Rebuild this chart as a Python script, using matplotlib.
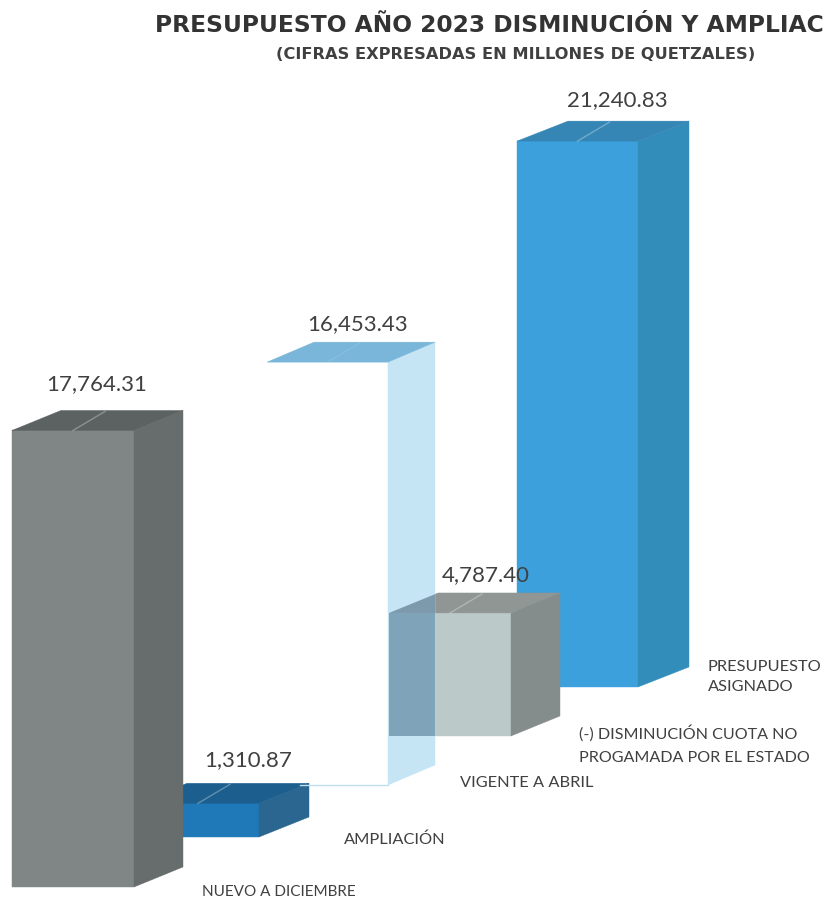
import matplotlib
matplotlib.use('Agg')
from matplotlib import pyplot as plt
from matplotlib.patches import Polygon

categories = ['NUEVO A DICIEMBRE', 'AMPLIACIÓN', 'VIGENTE A ABRIL',
              '(-) DISMINUCIÓN CUOTA NO\nPROGAMADA POR EL ESTADO', 'PRESUPUESTO\nASIGNADO']
values = [17764.31, 1310.87, 16453.43, 4787.40, 21240.83]
value_labels = ['17,764.31', '1,310.87', '16,453.43', '4,787.40', '21,240.83']

PX = 0.0257  # image pixels per million

# layout, in image pixels: left edge, width, depth, baseline
lefts = [12, 137, 267, 389, 517]
widths = [122, 122, 121, 122, 121]
depths = [49, 50, 47, 49, 51]
bases = [887, 837, 785, 736, 687]
DEPTH_Y = 20
# front, side, top
colors = [('#7f8685', '#676d6c', '#5c6261'),
          ('#1f78b8', '#2a6690', '#1c5f8e'),
          ('#ffffff', '#c5e5f5', '#7ab6d9'),
          ('#bcc9c9', '#858c8c', '#8f9694'),
          ('#3ba0dc', '#338dbb', '#3586b4')]
label_pos = [(97, 384), (248, 760), (358, 324), (486, 575), (617, 100)]
cat_pos = [(202, 892), (344, 840), (460, 783), (579, 745), (708, 677)]
cat_size = [11, 11.8, 11.8, 11.6, 11.8]
cat_spacing = [1, 1, 1, 1.85, 1.62]
leader_alpha = [.3, .3, .1, .3, .3]
draw_order = [4, 3, 2, 1, 0]


def y_of(pixel):
    return (900 - pixel) / PX


def box(i):
    # the three visible faces of one bar, heights come from the value
    x0, x1 = lefts[i], lefts[i] + widths[i]
    y0 = y_of(bases[i])
    y1 = y0 + values[i]
    dx, dy = depths[i], DEPTH_Y / PX
    front = [(x0, y0), (x1, y0), (x1, y1), (x0, y1)]
    side = [(x1, y0), (x1 + dx, y0 + dy), (x1 + dx, y1 + dy), (x1, y1)]
    top = [(x0, y1), (x1, y1), (x1 + dx, y1 + dy), (x0 + dx, y1 + dy)]
    return front, side, top


fig = plt.figure(figsize=(8.24, 9), dpi=100)
ax = fig.add_axes([0, 0, 1, 1])
ax.set_xlim(0, 824)
ax.set_ylim(0, 900 / PX)
ax.axis('off')

for i in draw_order:
    for face, color in zip(box(i), colors[i]):
        ax.add_patch(Polygon(face, closed=True, fc=color, ec=color, lw=0.3))
    # leader line across the top face
    front = box(i)[0]
    xm = lefts[i] + widths[i] / 2
    ax.plot([xm, xm + 32], [front[2][1], front[2][1] + 19 / PX], color='white',
            alpha=leader_alpha[i], lw=1)
    if i == 2:
        # the see-through side of the white bar darkens the grey box behind it
        side = Polygon(box(2)[1], closed=True, fc='none', ec='none')
        ax.add_patch(side)
        for face, color in zip(box(3), ('#7fa3b8', '#7c9aac', '#7c9aac')):
            p = Polygon(face, closed=True, fc=color, ec='none')
            ax.add_patch(p)
            p.set_clip_path(side)
        f = box(2)[0]
        ax.plot([300, f[1][0]], [f[0][1], f[1][1]], color='#bfe0f2', lw=1)

for (x, y), s in zip(label_pos, value_labels):
    ax.text(x, y_of(y), s, ha='center', va='center', family='Lato', fontsize=16, color='#404040')

for (x, y), s, fs, sp in zip(cat_pos, categories, cat_size, cat_spacing):
    ax.text(x, y_of(y), s, ha='left', va='center', family='Lato', fontsize=fs,
            color='#404040', linespacing=sp)

# the title runs off the right edge in the original scan too
ax.text(155, y_of(26), 'PRESUPUESTO AÑO 2023 DISMINUCIÓN Y AMPLIACIÓN', ha='left', va='center',
        family='DejaVu Sans', fontweight='bold', fontsize=16.8, color='#333333', clip_on=True)
ax.text(516, y_of(55), '(CIFRAS EXPRESADAS EN MILLONES DE QUETZALES)', ha='center', va='center',
        family='DejaVu Sans', fontweight='bold', fontsize=11.7, color='#404040')

fig.savefig('out.png', dpi=100)
